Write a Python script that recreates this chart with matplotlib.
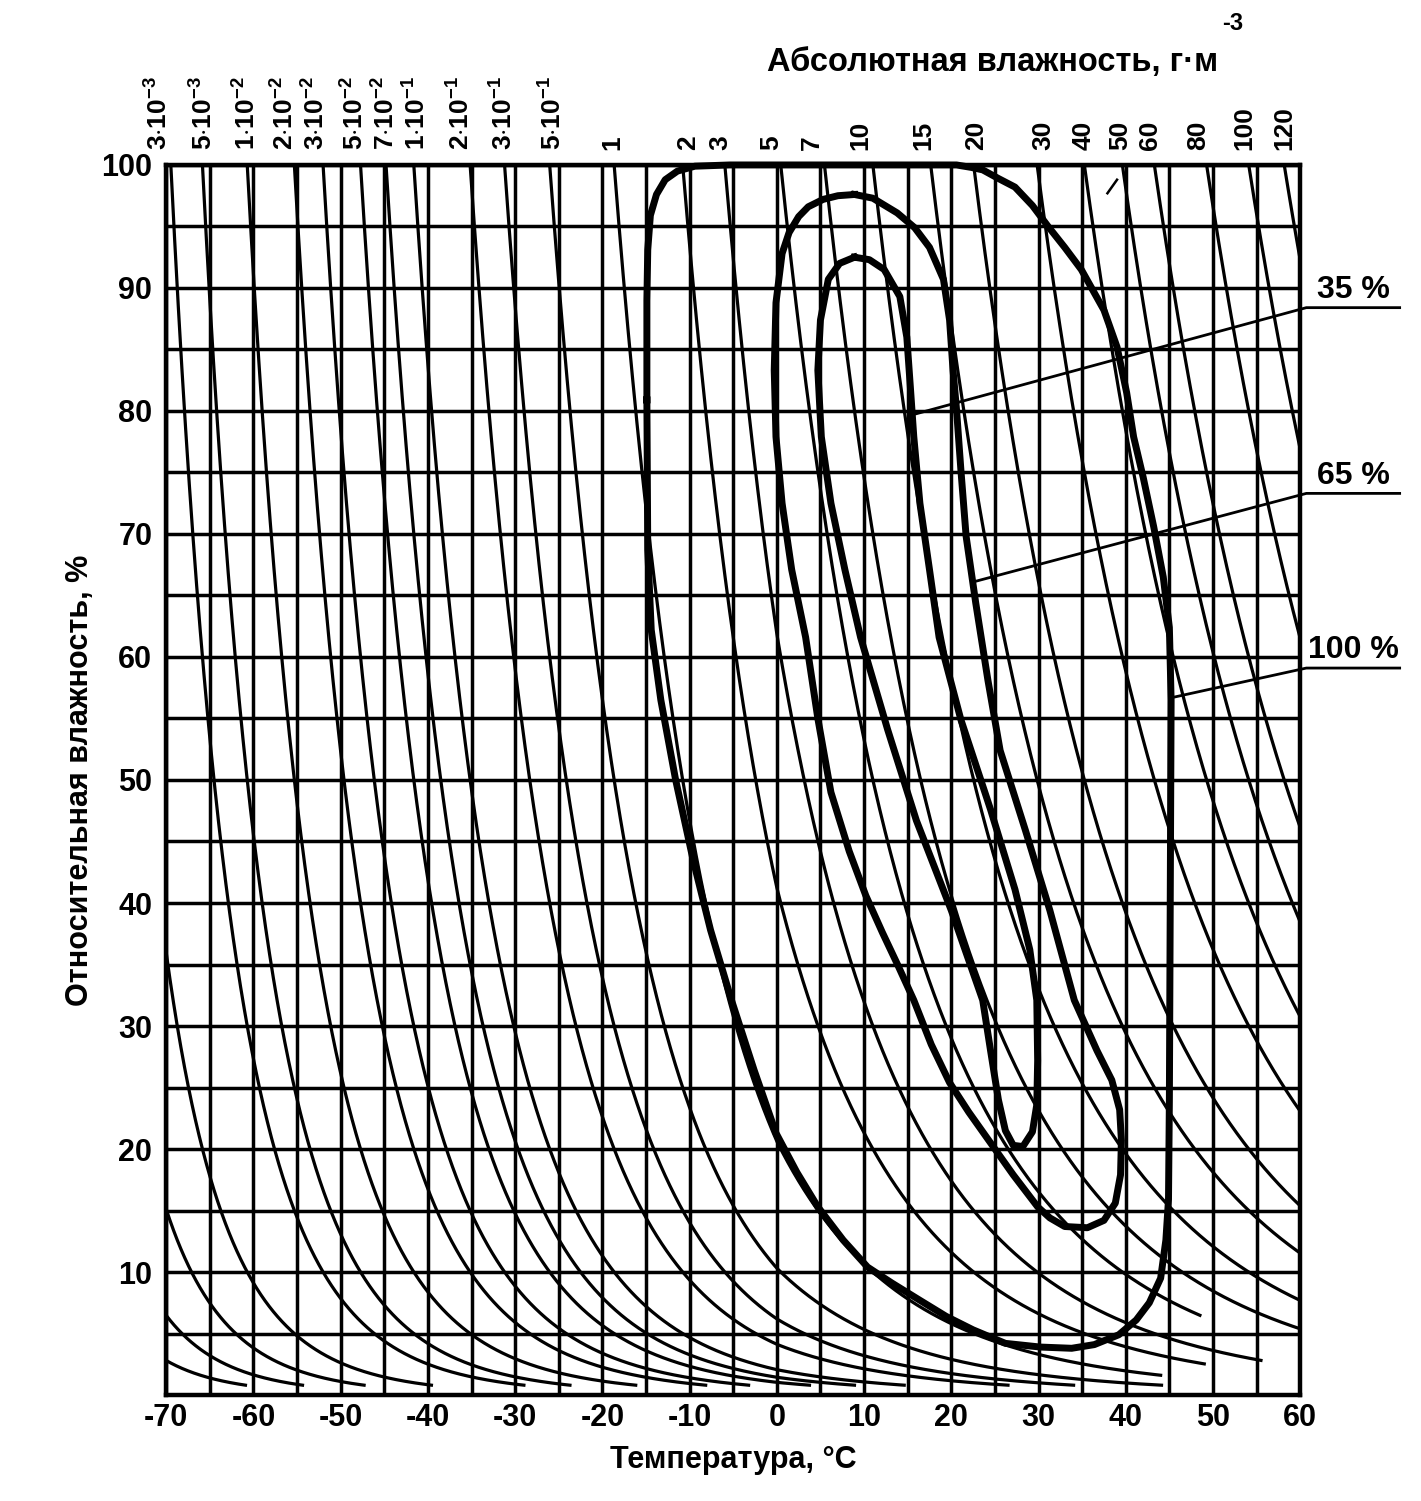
import numpy as np
import matplotlib
matplotlib.use('Agg')
import matplotlib.pyplot as plt

plt.rcParams['font.family'] = ['Liberation Sans', 'DejaVu Sans']
plt.rcParams['font.weight'] = 'bold'
plt.rcParams['axes.labelweight'] = 'bold'
plt.rcParams['axes.unicode_minus'] = False
plt.rcParams['mathtext.fontset'] = 'custom'
plt.rcParams['mathtext.rm'] = 'Liberation Sans:bold'
plt.rcParams['mathtext.bf'] = 'Liberation Sans:bold'
plt.rcParams['mathtext.default'] = 'bf'

# absolute humidity levels of the curves, g/m3 (the four lowest ones are unlabelled)
ah_levels = [7.8e-5, 1.8e-4, 4.2e-4, 1e-3,
             3e-3, 5e-3, 1e-2, 2e-2, 3e-2, 5e-2, 7e-2, 0.1, 0.2, 0.3, 0.5,
             1, 2, 3, 5, 7, 10, 15, 20, 30, 40, 50, 60, 80, 100, 120]
# temperature where a curve stops short of the right edge (None = runs on)
ah_end_t = [None, None, None, None,
            None, None, None, None, None, None, None, None, None, None, None,
            44.0, 49.0, 55.5, 48.5, None, None, None, None, None, None, None, None, None, None, None]

# labels along the top edge and their temperatures
ah_labels = [r'$3{\cdot}10^{-3}$', r'$5{\cdot}10^{-3}$', r'$1{\cdot}10^{-2}$', r'$2{\cdot}10^{-2}$',
             r'$3{\cdot}10^{-2}$', r'$5{\cdot}10^{-2}$', r'$7{\cdot}10^{-2}$', r'$1{\cdot}10^{-1}$',
             r'$2{\cdot}10^{-1}$', r'$3{\cdot}10^{-1}$', r'$5{\cdot}10^{-1}$',
             '1', '2', '3', '5', '7', '10', '15', '20', '30', '40', '50', '60', '80', '100', '120']
ah_label_t = [-70.8, -65.7, -60.8, -56.4, -52.8, -48.4, -44.8, -41.3, -36.2, -31.3, -25.7,
              -18.9, -10.2, -6.5, -0.6, 4.0, 9.6, 16.8, 22.8, 30.6, 35.2, 39.4, 42.8, 48.3, 53.6, 58.2]

# closed contours (temperature, relative humidity)
loop35_t = [8.9, 10.6, 12.3, 14.1, 14.9, 15.3, 15.7, 16.4, 17.5, 18.6, 21.1, 24.5, 27.3, 29.0,
            29.8, 29.9, 29.8, 29.3, 28.2, 27.1, 26.2, 25.4, 24.5, 23.6, 20.0, 16.0, 12.7, 9.6,
            7.8, 6.2, 5.1, 4.7, 5.0, 5.9, 7.2, 8.9]
loop35_rh = [92.5, 92.3, 91.5, 89.3, 86.0, 82.0, 77.9, 72.5, 67.1, 61.6, 54.9, 47.6, 41.1, 36.2,
             32.1, 27.2, 23.6, 21.4, 20.2, 20.3, 21.5, 24.0, 28.0, 32.1, 39.4, 46.7, 54.1, 61.6,
             67.1, 72.5, 77.9, 83.3, 87.4, 90.7, 92.0, 92.5]

loop65_t = [8.9, 11.0, 13.8, 15.8, 17.5, 19.1, 19.8, 20.2, 20.6, 21.1, 21.7, 22.8, 24.2, 25.6,
            28.5, 31.3, 34.1, 36.7, 38.4, 39.3, 39.5, 39.4, 38.8, 37.5, 35.6, 33.0, 31.3, 29.9,
            27.1, 24.3, 22.0, 19.8, 17.7, 15.7, 13.9, 12.1, 10.2, 8.3, 6.2, 4.7, 3.3, 1.7, 0.6,
            -0.1, -0.3, -0.1, 0.6, 1.4, 2.5, 3.6, 5.3, 7.0, 8.9]
loop65_rh = [97.6, 97.3, 96.1, 94.9, 93.3, 90.7, 87.4, 83.3, 80.1, 75.2, 69.8, 64.4, 58.1, 52.4,
             45.9, 39.4, 32.1, 28.0, 25.6, 23.2, 20.7, 17.9, 15.6, 14.2, 13.6, 13.7, 14.4, 15.3,
             17.9, 20.7, 23.0, 25.4, 28.5, 32.1, 34.9, 37.6, 40.6, 44.2, 49.0, 55.0, 61.6, 67.1,
             72.5, 77.9, 83.3, 88.8, 92.8, 94.5, 95.8, 96.6, 97.2, 97.5, 97.6]

loop100_t = [-14.9, -14.9, -14.8, -14.5, -13.8, -12.8, -11.4, -9.4, -5.4, 9.3, 20.6, 22.3, 23.6,
             25.4, 27.3, 29.3, 31.1, 33.0, 34.9, 37.5, 39.0, 40.1, 40.9, 42.0, 43.2, 44.3, 45.0,
             45.2, 45.1, 45.0, 44.9, 44.6, 44.0, 42.7, 41.2, 39.2, 36.4, 33.8, 30.2, 26.2, 22.5,
             19.4, 16.4, 13.2, 10.4, 7.6, 4.7, 2.3, -0.1, -2.6, -5.2, -7.6, -9.6, -11.6, -13.3,
             -14.4, -14.8, -14.9]
loop100_rh = [80.9, 89.0, 93.1, 95.9, 97.6, 98.8, 99.5, 99.9, 100, 100, 100, 99.8, 99.6,
              98.9, 98.2, 96.7, 95.0, 93.3, 91.5, 88.2, 85.2, 81.5, 77.9, 74.6, 70.6, 66.5, 62.4,
              56.5, 40.2, 24.0, 15.9, 12.6, 9.5, 7.5, 6.1, 4.9, 4.1, 3.8, 3.9, 4.2, 5.3,
              6.4, 7.7, 9.1, 10.4, 12.6, 15.3, 18.1, 21.3, 26.4, 32.1, 37.8, 43.5, 50.0, 56.5,
              62.2, 68.7, 80.9]

# contour labels: text, leader start/end on the contour
loop_names = ['35 %', '65 %', '100 %']
leader_start = [(60.7, 88.4), (60.7, 73.3), (60.7, 59.1)]
leader_end = [(15.6, 79.7), (22.5, 66.1), (45.3, 56.7)]
underline_end_t = 71.4


def sat_density(t):
    # saturation vapour density, g/m3 (over ice below 0 C, over water above)
    e = np.where(t < 0,
                 6.112 * np.exp(22.46 * t / (272.62 + t)),
                 6.112 * np.exp(17.62 * t / (243.12 + t)))
    return 216.7 * e / (t + 273.15)


fig = plt.figure(figsize=(14.21, 15.01), dpi=100)
ax = fig.add_axes([0.117, 0.0706, 0.798, 0.8195])

ax.set_xlim(-70, 60)
ax.set_ylim(0, 100)

ax.set_xticks(np.arange(-70, 61, 10))
ax.set_xticks(np.arange(-70, 61, 5), minor=True)
ax.set_yticks(np.arange(10, 101, 10))
ax.set_yticks(np.arange(0, 101, 5), minor=True)
ax.grid(which='both', color='black', lw=2.5)
ax.tick_params(which='both', length=0, labelsize=22)
ax.tick_params(axis='x', pad=6)
ax.tick_params(axis='y', pad=10)
for sp in ax.spines.values():
    sp.set_linewidth(3.2)

# lines of constant absolute humidity
t_grid = np.linspace(-70, 60, 6501)
for a, t_end in zip(ah_levels, ah_end_t):
    rh = 100 * a / sat_density(t_grid)
    keep = (rh <= 100) & (rh >= 0.8)
    if t_end is not None:
        keep &= t_grid <= t_end
    ax.plot(t_grid[keep], rh[keep], color='black', lw=2.3)

for s, t in zip(ah_labels, ah_label_t):
    ax.text(t, 101.2, s, rotation=90, ha='center', va='bottom', fontsize=19, clip_on=False)

# small stroke at the start of the 50 g/m3 curve
ax.plot([37.9, 39.0], [97.7, 98.8], color='black', lw=1.8)

# the three contours
for lt, lr in [(loop35_t, loop35_rh), (loop65_t, loop65_rh), (loop100_t, loop100_rh)]:
    ax.plot(lt, lr, color='black', lw=5, solid_joinstyle='round', clip_on=False)

for name, (x0, y0), (x1, y1) in zip(loop_names, leader_start, leader_end):
    ax.plot([x1, x0, underline_end_t], [y1, y0, y0], color='black', lw=2, clip_on=False)
    ax.text((x0 + underline_end_t) / 2, y0 + 0.8, name, ha='center', va='baseline',
            fontsize=23, clip_on=False)

ax.set_xlabel('Температура, °C', fontsize=22)
ax.xaxis.set_label_coords(0.5, -0.041)
ax.set_ylabel('Относительная влажность, %', fontsize=22)
ax.yaxis.set_label_coords(-0.063, 0.5)

fig.text(1218 / 1421, 1 - 62 / 1501, 'Абсолютная влажность, г·м', ha='right', va='center',
         fontsize=23.5)
fig.text(1222 / 1421, 1 - 24 / 1501, '-3', ha='left', va='center', fontsize=17)

fig.savefig('out.png', dpi=100)
